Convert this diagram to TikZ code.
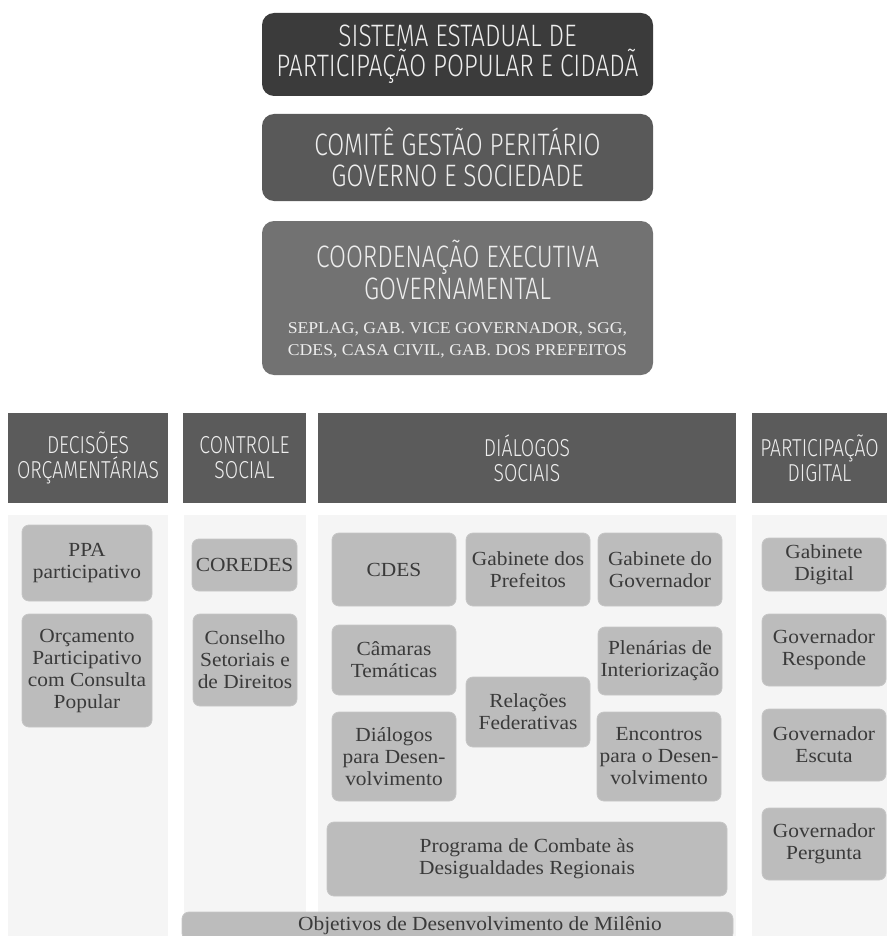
\documentclass[tikz,border=0pt]{standalone}
\usepackage{fontspec}
\setmainfont[FakeStretch=1.07]{Liberation Serif}
\newfontfamily\headfont[FakeStretch=0.79]{Fira Sans Light}
\usetikzlibrary{positioning}
\definecolor{topdark}{HTML}{3B3B3B}
\definecolor{topmid}{HTML}{595959}
\definecolor{toplight}{HTML}{727272}
\definecolor{headgrey}{HTML}{5B5B5B}
\definecolor{headtext}{HTML}{EEEEEE}
\definecolor{panelgrey}{HTML}{F5F5F5}
\definecolor{itemgrey}{HTML}{BCBCBC}
\definecolor{itemline}{HTML}{C6C6C6}
\definecolor{itemtext}{HTML}{3A3A3A}
\tikzset{
		top box/.style={
			rectangle,
			rounded corners=12pt,
			minimum width=391pt,
			text=headtext,
			align=center,
			inner sep=0pt
		},
		head box/.style={
			rectangle,
			fill=headgrey,
			text=headtext,
			align=center,
			minimum height=90pt,
			inner sep=0pt,
			font=\headfont\fontsize{24.5}{25}\selectfont
		},
		panel/.style={
			rectangle,
			fill=panelgrey,
			minimum height=421pt,
			inner sep=0pt
		},
		item box/.style={
			rectangle,
			rounded corners=7pt,
			fill=itemgrey,
			draw=itemline,
			line width=0.8pt,
			text=itemtext,
			align=center,
			inner sep=0pt,
			font=\fontsize{20}{22}\selectfont
		}
	}
\begin{document}
\begin{tikzpicture}[x=1pt, y=-1pt]
	\useasboundingbox (0,0) rectangle (887,936);
	% topo
	\node [top box, fill=topdark, minimum height=83pt, font=\headfont\fontsize{31}{30}\selectfont] (sistema) at (457.5,54.5)
		{SISTEMA ESTADUAL DE\\PARTICIPAÇÃO POPULAR E CIDADÃ};
	\node [top box, fill=topmid, minimum height=87pt, font=\headfont\fontsize{31}{31}\selectfont] (comite) at (457.5,157.5)
		{COMITÊ GESTÃO PERITÁRIO\\GOVERNO E SOCIEDADE};
	\node [top box, fill=toplight, minimum height=154pt] (coord) at (457.5,298) {};
	\node [text=headtext, align=center, inner sep=0pt, font=\headfont\fontsize{31}{32}\selectfont] (coordtit) at (457.5,270)
		{COORDENAÇÃO EXECUTIVA\\GOVERNAMENTAL};
	\node [text=headtext, align=center, inner sep=0pt, font=\fontsize{16.5}{22}\selectfont] (coordsub) at (457.5,340)
		{SEPLAG, GAB. VICE GOVERNADOR, SGG,\\CDES, CASA CIVIL, GAB. DOS PREFEITOS};
	% colunas
	\node [head box, minimum width=160pt] (decisoes) at (88,458) {DECISÕES\\ORÇAMENTÁRIAS};
	\node [head box, minimum width=123pt] (controle) at (244.5,458) {CONTROLE\\SOCIAL};
	\node [head box, minimum width=418pt] (dialogos) at (527,458) {DIÁLOGOS\\SOCIAIS};
	\node [head box, minimum width=135pt] (digital) at (819.5,458) {PARTICIPAÇÃO\\DIGITAL};
	\node [panel, minimum width=160pt] (p1) at (88,725.5) {};
	\node [panel, minimum width=122pt] (p2) at (245,725.5) {};
	\node [panel, minimum width=418pt] (p3) at (527,725.5) {};
	\node [panel, minimum width=135pt] (p4) at (819.5,725.5) {};
	% decisoes orcamentarias
	\node [item box, minimum width=130pt, minimum height=76pt] (ppa) at (87,563) {PPA\\participativo};
	\node [item box, minimum width=130pt, minimum height=113pt] (orcamento) at (87,670.5)
		{Orçamento\\Participativo\\com Consulta\\Popular};
	% controle social
	\node [item box, minimum width=105pt, minimum height=52pt] (coredes) at (244.5,565) {COREDES};
	\node [item box, minimum width=104pt, minimum height=92pt] (conselho) at (245,660) {Conselho\\Setoriais e\\de Direitos};
	% dialogos sociais
	\node [item box, minimum width=124pt, minimum height=73pt] (cdes) at (394,569.5) {CDES};
	\node [item box, minimum width=124pt, minimum height=73pt] (gabpref) at (528,569.5) {Gabinete dos\\Prefeitos};
	\node [item box, minimum width=124pt, minimum height=73pt] (gabgov) at (660,569.5) {Gabinete do\\Governador};
	\node [item box, minimum width=124pt, minimum height=70pt] (camaras) at (394,660) {Câmaras\\Temáticas};
	\node [item box, minimum width=124pt, minimum height=68pt] (plenarias) at (660,661) {Plenárias de\\Interiorização};
	\node [item box, minimum width=124pt, minimum height=70pt] (relacoes) at (528,712) {Relações\\Federativas};
	\node [item box, minimum width=124pt, minimum height=89pt] (dialdes) at (394,756.5) {Diálogos\\para Desen-\\volvimento};
	\node [item box, minimum width=124pt, minimum height=89pt] (encontros) at (659,756.5) {Encontros\\para o Desen-\\volvimento};
	\node [item box, minimum width=400pt, minimum height=74pt] (programa) at (527,859)
		{Programa de Combate às\\Desigualdades Regionais};
	\node [item box, minimum width=551pt, minimum height=28pt] (odm) at (457.5,926)
		{\hspace*{45pt}Objetivos de Desenvolvimento de Milênio};
	% participacao digital
	\node [item box, minimum width=124pt, minimum height=53pt] (gabdig) at (824,564.5) {Gabinete\\Digital};
	\node [item box, minimum width=124pt, minimum height=72pt] (responde) at (824,650) {Governador\\Responde};
	\node [item box, minimum width=124pt, minimum height=72pt] (escuta) at (824,745) {Governador\\Escuta};
	\node [item box, minimum width=124pt, minimum height=72pt] (pergunta) at (824,844) {Governador\\Pergunta};
\end{tikzpicture}
\end{document}
